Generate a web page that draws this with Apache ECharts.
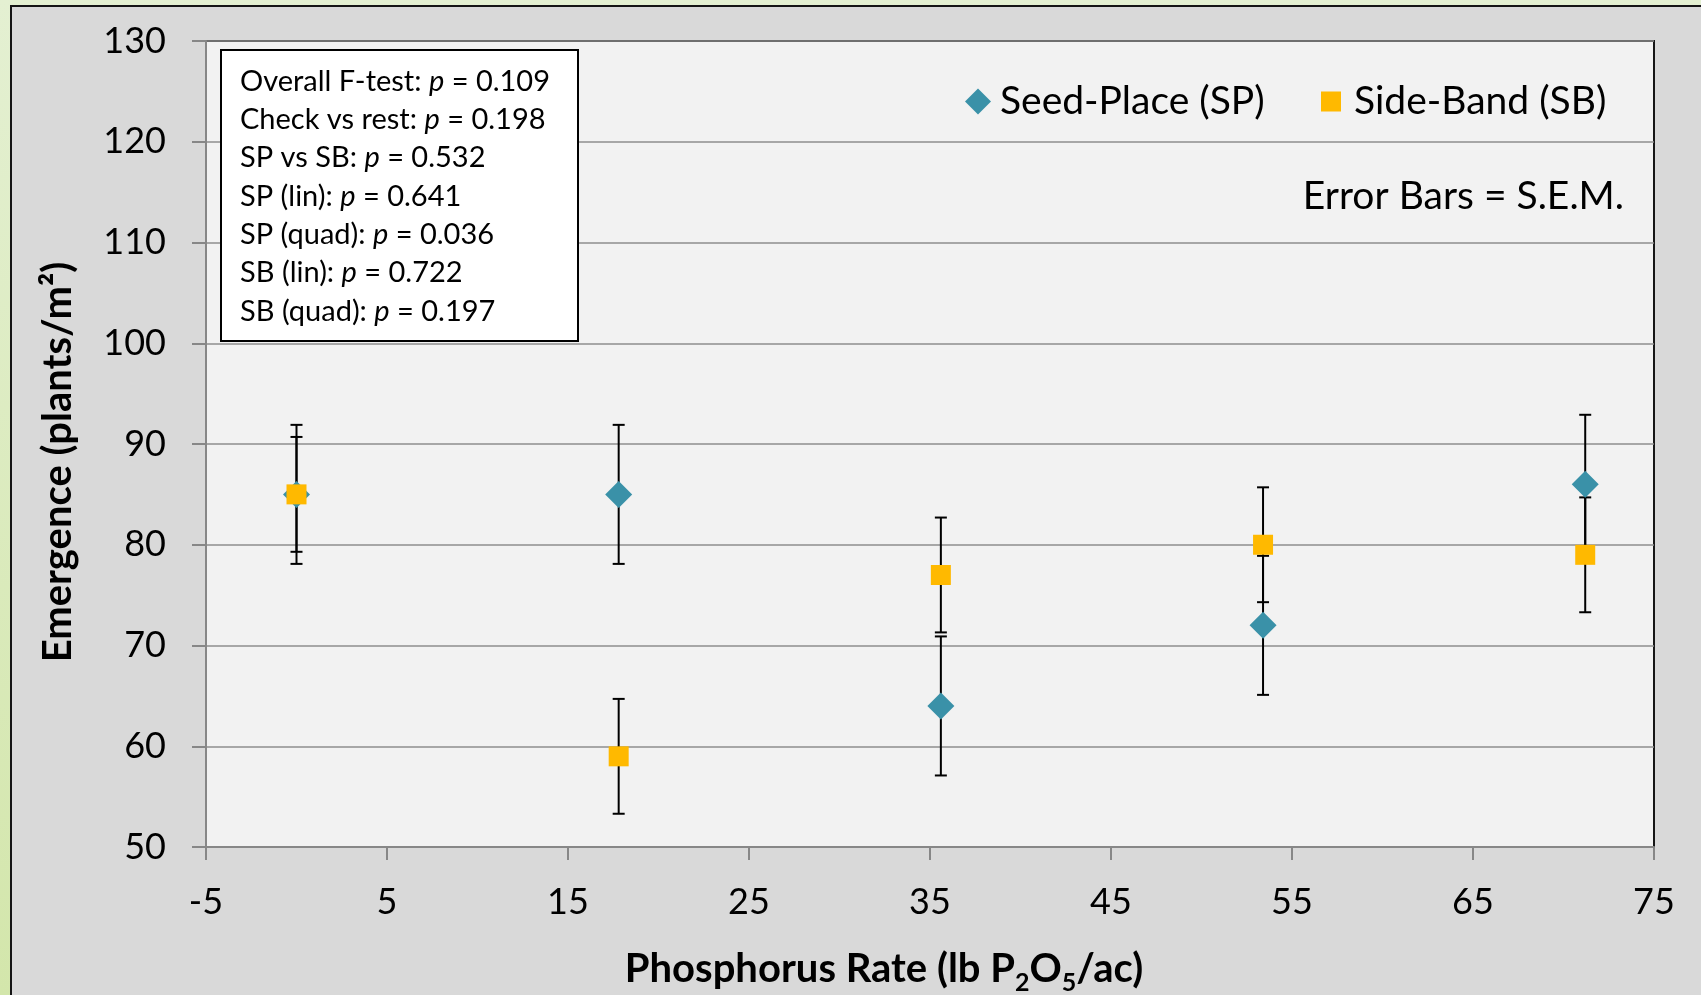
<!DOCTYPE html>
<html><head><meta charset="utf-8">
<script src="https://cdn.jsdelivr.net/npm/echarts@6/dist/echarts.min.js"></script>
<style>
html,body{margin:0;padding:0;width:1701px;height:995px;overflow:hidden;background:linear-gradient(#e4f0d2,#d3e6ab);}
#frame{position:absolute;left:10px;top:5px;width:1800px;height:1100px;border:2px solid #151515;background:#d9d9d9;}
#c{position:absolute;left:0;top:0;width:1701px;height:995px;}
</style></head><body><div id="frame"></div><div id="c"></div>
<script>
// ---- data ----
const xRates = [0, 17.8, 35.6, 53.4, 71.2];
const spMean = [85, 85, 64, 72, 86];
const spSem  = [6.9, 6.9, 6.9, 6.9, 6.9];
const sbMean = [85, 59, 77, 80, 79];
const sbSem  = [5.7, 5.7, 5.7, 5.7, 5.7];
const xTicks = [-5, 5, 15, 25, 35, 45, 55, 65, 75];
const yTicks = [50, 60, 70, 80, 90, 100, 110, 120, 130];
const statNames  = ['Overall F-test', 'Check vs rest', 'SP vs SB', 'SP (lin)', 'SP (quad)', 'SB (lin)', 'SB (quad)'];
const statValues = ['0.109', '0.198', '0.532', '0.641', '0.036', '0.722', '0.197'];

const FONT = 'Lato';
const spColor = '#3a91a8';
const sbColor = '#ffb900';

const spPts = xRates.map((x, i) => [x, spMean[i]]);
const sbPts = xRates.map((x, i) => [x, sbMean[i]]);
const spErr = xRates.map((x, i) => [x, spMean[i] - spSem[i], spMean[i] + spSem[i]]);
const sbErr = xRates.map((x, i) => [x, sbMean[i] - sbSem[i], sbMean[i] + sbSem[i]]);

function errRender(params, api) {
  const x = api.value(0), lo = api.value(1), hi = api.value(2);
  const a = api.coord([x, lo]), b = api.coord([x, hi]);
  const hw = 6;
  const st = { stroke: '#000', lineWidth: 2 };
  return { type: 'group', children: [
    { type: 'line', shape: { x1: a[0], y1: a[1], x2: b[0], y2: b[1] }, style: st },
    { type: 'line', shape: { x1: a[0] - hw, y1: a[1], x2: a[0] + hw, y2: a[1] }, style: st },
    { type: 'line', shape: { x1: b[0] - hw, y1: b[1], x2: b[0] + hw, y2: b[1] }, style: st }
  ]};
}

const statText = statNames.map((n, i) => n + ': {i|p} = ' + statValues[i]).join('\n');

const chart = echarts.init(document.getElementById('c'), null, { renderer: 'canvas' });
chart.setOption({
  backgroundColor: 'transparent',
  animation: false,
  textStyle: { fontFamily: FONT },
  grid: { left: 206, top: 41, right: 47, bottom: 148, outerBoundsMode: 'none', containLabel: false,
    show: true, backgroundColor: '#f2f2f2', borderColor: '#161616', borderWidth: 2 },
  xAxis: {
    type: 'value', min: -5, max: 75,
    axisLine: { show: true, onZero: false, lineStyle: { color: '#878787', width: 2 } },
    axisTick: { show: true, length: 13, customValues: xTicks, lineStyle: { color: '#878787', width: 2 } },
    axisLabel: { customValues: xTicks, margin: 37, fontSize: 36, color: '#000', fontFamily: FONT },
    splitLine: { show: false },
    name: 'Phosphorus Rate (lb P{sub|2}O{sub|5}/ac)',
    nameLocation: 'middle', nameGap: 102,
    nameTextStyle: { fontSize: 40, fontWeight: 'bold', color: '#000', fontFamily: FONT, padding: [0, 92, 0, 0],
      rich: { sub: { fontSize: 25, fontWeight: 'bold', color: '#000', fontFamily: FONT, padding: [28, 0, 0, 0], lineHeight: 25 } } }
  },
  yAxis: {
    type: 'value', min: 50, max: 130, interval: 10,
    axisLine: { show: true, onZero: false, lineStyle: { color: '#878787', width: 2 } },
    axisTick: { show: true, length: 14, lineStyle: { color: '#878787', width: 2 } },
    axisLabel: { margin: 40, fontSize: 36, color: '#000', fontFamily: FONT },
    splitLine: { show: true, lineStyle: { color: '#8e8e8e', width: 1.5 } },
    name: 'Emergence (plants/m\u00b2)',
    nameLocation: 'middle', nameGap: 128, nameRotate: 90,
    nameTextStyle: { fontSize: 40, fontWeight: 'bold', color: '#000', fontFamily: FONT, padding: [0, 36, 0, 0] }
  },
  legend: [
    { data: ['Seed-Place (SP)'], left: 965, top: 82, itemWidth: 26, itemHeight: 26, padding: 0,
      textStyle: { fontSize: 39, color: '#000', fontFamily: FONT, padding: [0, 0, 8, 4] } },
    { data: ['Side-Band (SB)'], left: 1321, top: 82, itemWidth: 20, itemHeight: 20, padding: 0,
      textStyle: { fontSize: 39, color: '#000', fontFamily: FONT, padding: [0, 0, 8, 8] } }
  ],
  graphic: [
    { type: 'rect', shape: { x: 221, y: 50, width: 357, height: 291 }, style: { fill: '#ffffff', stroke: '#000', lineWidth: 2 }, z: 100 },
    { type: 'text', x: 240, y: 62, z: 101,
      style: { text: statText, font: '29px ' + FONT, fill: '#000', lineHeight: 38.33, verticalAlign: 'top',
        rich: { i: { fontStyle: 'italic', fontSize: 29, fontFamily: FONT, lineHeight: 38.33 } } } },
    { type: 'text', x: 1624, y: 196, z: 101,
      style: { text: 'Error Bars = S.E.M.', font: '39px ' + FONT, fill: '#000', align: 'right', verticalAlign: 'middle' } }
  ],
  series: [
    { name: 'SP error', type: 'custom', renderItem: errRender, data: spErr, encode: { x: 0, y: [1, 2] }, z: 3, silent: true },
    { name: 'SB error', type: 'custom', renderItem: errRender, data: sbErr, encode: { x: 0, y: [1, 2] }, z: 3, silent: true },
    { name: 'Seed-Place (SP)', type: 'scatter', data: spPts, symbol: 'diamond', symbolSize: [27, 27], itemStyle: { color: spColor, opacity: 1 }, z: 4 },
    { name: 'Side-Band (SB)', type: 'scatter', data: sbPts, symbol: 'rect', symbolSize: [20, 20], itemStyle: { color: sbColor, opacity: 1 }, z: 5 }
  ]
});
</script></body></html>
